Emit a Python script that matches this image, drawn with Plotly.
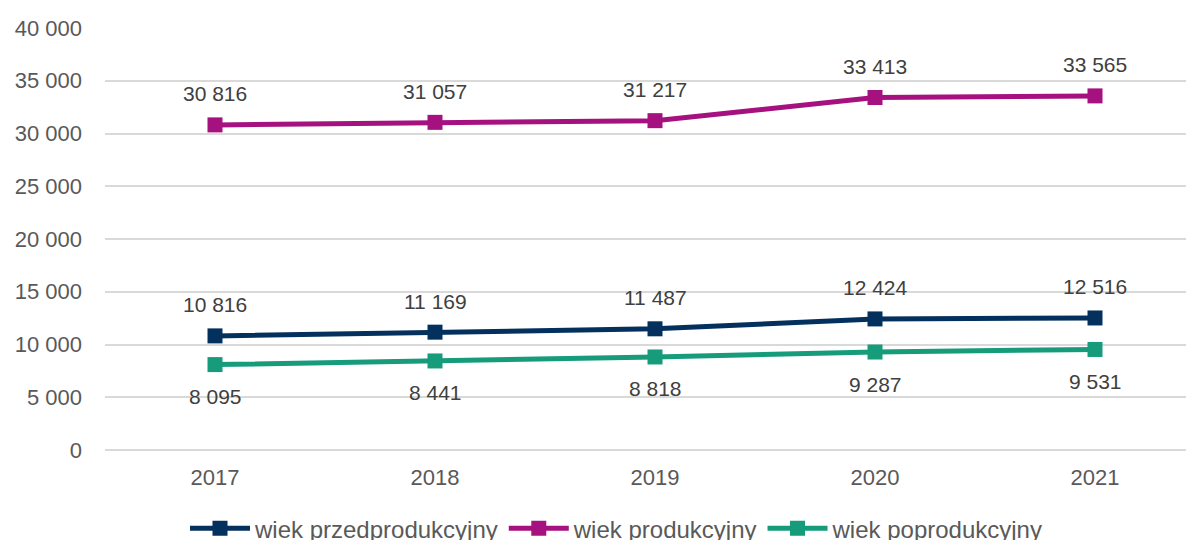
import plotly.graph_objects as go

years = ["2017", "2018", "2019", "2020", "2021"]
przed = [10816, 11169, 11487, 12424, 12516]
prod = [30816, 31057, 31217, 33413, 33565]
poprod = [8095, 8441, 8818, 9287, 9531]
names = ["wiek przedprodukcyjny", "wiek produkcyjny", "wiek poprodukcyjny"]
colors = ["#04305E", "#A5117F", "#169B7B"]
yticks = [0, 5000, 10000, 15000, 20000, 25000, 30000, 35000, 40000]


def fmt(v):
    return f"{v:,}".replace(",", " ")


FONT = "Liberation Sans, Arial, sans-serif"
fig = go.Figure()
series = [przed, prod, poprod]
shifts = [31, 31, -32]
for vals, name, col, sh in zip(series, names, colors, shifts):
    fig.add_trace(go.Scatter(
        x=years, y=vals, name=name, mode="lines+markers",
        line=dict(color=col, width=5),
        marker=dict(symbol="square", size=15, color=col),
    ))
    for i, yv in enumerate(vals):
        fig.add_annotation(x=i, y=yv, xref="x", yref="y", text=fmt(yv), showarrow=False,
                           yshift=sh, font=dict(family=FONT, size=21, color="#404040"))

fig.update_layout(
    width=1210, height=560,
    margin=dict(l=97, r=13, t=20, b=118, autoexpand=False),
    plot_bgcolor="white", paper_bgcolor="white",
    font=dict(family=FONT, size=22, color="#595959"),
    showlegend=True,
    legend=dict(orientation="h", x=0.465, xanchor="center", y=-0.133, yanchor="top",
                font=dict(family=FONT, size=24, color="#595959"),
                itemwidth=60, tracegroupgap=0),
    xaxis=dict(type="category", range=[-0.5, 4.5], showgrid=False, showline=False,
               automargin=False,
               ticks="", tickfont=dict(size=22, color="#595959"), ticklabelstandoff=12),
    yaxis=dict(range=[0, 40000], tickvals=yticks, ticktext=[fmt(v) for v in yticks],
               automargin=False,
               showgrid=True, gridcolor="#D9D9D9", gridwidth=1.5, zeroline=True,
               zerolinecolor="#D9D9D9", zerolinewidth=1.5, showline=False, ticks="",
               tickfont=dict(size=22, color="#595959"), ticklabelstandoff=22),
)
fig.write_html("out.html")
